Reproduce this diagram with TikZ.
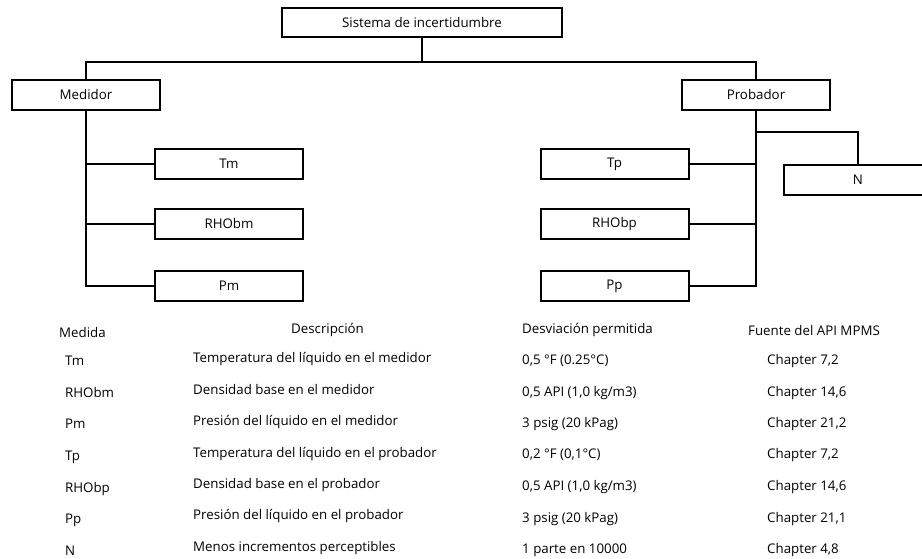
\documentclass[tikz,border=0pt]{standalone}
\usepackage{fontspec}
\setmainfont{Open Sans}
\begin{document}
\begin{tikzpicture}[x=1pt,y=-1pt,
  box/.style={draw=black,line width=2pt,fill=white,rectangle,minimum width=148pt,minimum height=30pt,inner sep=0pt,font=\fontsize{13.3}{15}\selectfont},
  link/.style={draw=black,line width=1.7pt},
  cell/.style={anchor=base west,inner sep=0pt,font=\fontsize{13.3}{15}\selectfont}]
\useasboundingbox (0,0) rectangle (922,559);
\clip (0,0) rectangle (922,559);

% tree of the uncertainty system
\node[box,minimum width=280pt,minimum height=29pt] (sys) at (422,22.5) {Sistema de incertidumbre};
\node[box] (med)  at (86,95)    {Medidor};
\node[box] (prob) at (756,95)   {Probador};
\node[box] (tm)    at (229,164)   {Tm};
\node[box] (rhobm) at (229,224)   {RHObm};
\node[box] (pm)    at (229,286)   {Pm};
\node[box] (tp)    at (614.5,164) {Tp};
\node[box] (rhobp) at (614.5,224) {RHObp};
\node[box] (pp)    at (614.5,286) {Pp};
\node[box] (n)     at (858,180)   {N};

\coordinate (bus) at (0,62);
\coordinate (nbus) at (0,132);
\draw[link] (sys.south) -- (sys.south |- bus) -| (med.north);
\draw[link] (sys.south |- bus) -| (prob.north);
\draw[link] (med.south) |- (tm.west);
\draw[link] (med.south) |- (rhobm.west);
\draw[link] (med.south) |- (pm.west);
\draw[link] (prob.south) |- (tp.east);
\draw[link] (prob.south) |- (rhobp.east);
\draw[link] (prob.south) |- (pp.east);
\draw[link] (prob.south |- nbus) -| (n.north);

% table of measurements
\node[cell] (h1) at (59,337)  {Medida};
\node[cell] (h2) at (291,333) {Descripción};
\node[cell] (h3) at (522,333) {Desviación permitida};
\node[cell] (h4) at (748,335) {Fuente del API MPMS};

\node[cell] (m1) at (65,365) {Tm};
\node[cell] (m2) at (65,397) {RHObm};
\node[cell] (m3) at (65,428) {Pm};
\node[cell] (m4) at (65,460) {Tp};
\node[cell] (m5) at (65,492) {RHObp};
\node[cell] (m6) at (65,523) {Pp};
\node[cell] (m7) at (65,555) {N};

\node[cell] (d1) at (193,362) {Temperatura del líquido en el medidor};
\node[cell] (d2) at (193,394) {Densidad base en el medidor};
\node[cell] (d3) at (193,425) {Presión del líquido en el medidor};
\node[cell] (d4) at (193,457) {Temperatura del líquido en el probador};
\node[cell] (d5) at (193,488) {Densidad base en el probador};
\node[cell] (d6) at (193,519) {Presión del líquido en el probador};
\node[cell] (d7) at (193,551) {Menos incrementos perceptibles};

\node[cell] (v1) at (522,364) {0,5 °F (0.25°C)};
\node[cell] (v2) at (522,396) {0,5 API (1,0 kg/m3)};
\node[cell] (v3) at (522,427) {3 psig (20 kPag)};
\node[cell] (v4) at (522,458) {0,2 °F (0,1°C)};
\node[cell] (v5) at (522,490) {0,5 API (1,0 kg/m3)};
\node[cell] (v6) at (522,522) {3 psig (20 kPag)};
\node[cell] (v7) at (522,553) {1 parte en 10000};

\node[cell] (s1) at (767,364) {Chapter 7,2};
\node[cell] (s2) at (767,396) {Chapter 14,6};
\node[cell] (s3) at (767,427) {Chapter 21,2};
\node[cell] (s4) at (767,458) {Chapter 7,2};
\node[cell] (s5) at (767,490) {Chapter 14,6};
\node[cell] (s6) at (767,522) {Chapter 21,1};
\node[cell] (s7) at (767,553) {Chapter 4,8};
\end{tikzpicture}
\end{document}
